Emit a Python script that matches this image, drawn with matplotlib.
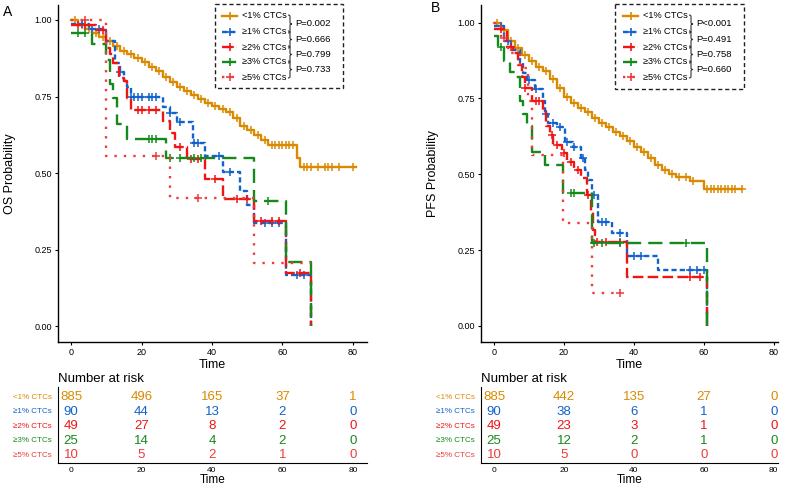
import numpy as np
import matplotlib
matplotlib.use('Agg')
import matplotlib.pyplot as plt
from matplotlib.path import Path
from matplotlib.patches import PathPatch, Rectangle

plt.rcParams['font.family'] = ['Liberation Sans', 'DejaVu Sans']

# 组名与颜色
groups = ['<1% CTCs', '≥1% CTCs', '≥2% CTCs', '≥3% CTCs', '≥5% CTCs']
colors = ['#DA8A00', '#1262CC', '#F01515', '#15891A', '#EE3B3B']
styles = ['-', (0, (2.2, 1.3)), (0, (4.5, 1.8)), (0, (6, 3)), (0, (1, 3))]

# ---- A: OS 曲线 ----
os_t = [
    [0, 2, 4, 6, 8, 10, 12, 14, 16, 18, 20, 22, 24, 26, 28, 30, 32, 34, 36, 38, 40,
     42, 44, 46, 48, 50, 52, 54, 56, 64, 65, 81],
    [0, 5, 10, 12.5, 14, 15, 16, 17, 26, 28, 30, 34.5, 38, 43, 48, 50, 52, 61, 68],
    [0, 7, 10, 11, 12, 13.5, 15, 16, 17, 26, 28, 29.5, 33, 38, 43, 52, 61, 68],
    [0, 6, 10, 11, 12, 13, 16, 27, 52, 61, 68],
    [0, 10, 28, 52, 68],
]
os_s = [
    [1.0, 0.985, 0.972, 0.958, 0.944, 0.93, 0.915, 0.9, 0.888, 0.875, 0.862, 0.848,
     0.832, 0.815, 0.797, 0.782, 0.768, 0.755, 0.742, 0.73, 0.72, 0.71, 0.70, 0.68,
     0.655, 0.64, 0.625, 0.608, 0.59, 0.55, 0.52, 0.52],
    [0.987, 0.97, 0.93, 0.86, 0.83, 0.80, 0.78, 0.75, 0.716, 0.696, 0.667, 0.598,
     0.556, 0.503, 0.44, 0.395, 0.337, 0.167, 0.0],
    [0.984, 0.967, 0.91, 0.89, 0.86, 0.81, 0.80, 0.745, 0.706, 0.67, 0.63, 0.585,
     0.545, 0.48, 0.415, 0.343, 0.173, 0.0],
    [0.957, 0.92, 0.87, 0.79, 0.745, 0.66, 0.61, 0.55, 0.41, 0.21, 0.0],
    [1.0, 0.556, 0.417, 0.206, 0.206],
]
os_cens = [
    [1, 3, 5, 7, 9, 11, 13, 15, 17, 19, 21, 23, 25, 27, 29, 31, 33, 35, 37, 39, 41,
     43, 45, 47, 49, 51, 53, 55, 57, 58, 59, 60, 61, 62, 63, 66, 67, 68, 70, 72, 73,
     74, 76, 80],
    [3, 6, 8, 14, 17, 18, 19, 20, 22, 23, 24, 28, 31, 35, 36, 42, 45, 55, 57, 59, 64, 66],
    [2, 4, 9, 19, 20, 22, 24, 31, 34, 36, 41, 47, 50, 54, 57, 59, 65],
    [2, 4, 22, 23, 24, 28, 31, 35, 37, 56],
    [4, 24, 36],
]

# ---- B: PFS 曲线 ----
pfs_t = [
    [0, 2, 4, 6, 8, 10, 12, 14, 16, 18, 20, 22, 24, 26, 28, 30, 32, 34, 36, 38, 40,
     42, 44, 46, 48, 50, 52, 56, 60, 71],
    [0, 3, 5, 7.5, 8.4, 9.4, 11.7, 14, 14.5, 15.5, 18, 20.3, 22.6, 25, 26, 27, 28,
     29.7, 33.7, 38, 47, 61],
    [0, 3.7, 5.4, 6.9, 8, 8.9, 10.9, 14, 15, 16, 17, 19.4, 21, 23, 25, 26.6, 27.7,
     28.3, 28.9, 38, 61],
    [0, 1.2, 3, 4.6, 6, 7.4, 8.3, 9.4, 10.9, 14.6, 19.7, 28, 61],
    [0, 2, 4, 7.4, 9.8, 11, 19.7, 28, 36.3],
]
pfs_s = [
    [1.0, 0.975, 0.94, 0.915, 0.893, 0.875, 0.855, 0.84, 0.815, 0.785, 0.755, 0.735,
     0.72, 0.705, 0.685, 0.67, 0.655, 0.64, 0.625, 0.608, 0.59, 0.575, 0.555, 0.53,
     0.515, 0.5, 0.49, 0.478, 0.45, 0.45],
    [0.99, 0.94, 0.908, 0.87, 0.835, 0.81, 0.78, 0.74, 0.70, 0.67, 0.655, 0.605,
     0.59, 0.553, 0.513, 0.48, 0.43, 0.343, 0.306, 0.23, 0.184, 0.0],
    [0.98, 0.92, 0.90, 0.86, 0.82, 0.786, 0.743, 0.71, 0.66, 0.63, 0.595, 0.57,
     0.54, 0.513, 0.487, 0.43, 0.38, 0.316, 0.276, 0.16, 0.0],
    [0.957, 0.92, 0.875, 0.836, 0.82, 0.743, 0.70, 0.66, 0.573, 0.53, 0.437, 0.273, 0.0],
    [1.0, 0.95, 0.90, 0.85, 0.74, 0.565, 0.34, 0.11, 0.11],
]
pfs_cens = [
    [1, 3, 5, 7, 9, 11, 13, 15, 17, 19, 21, 23, 25, 27, 29, 31, 33, 35, 37, 39, 41,
     43, 45, 47, 49, 51, 53, 55, 57, 61, 62, 63, 64, 65, 66, 67, 68, 69, 71],
    [2, 4, 10, 12, 15, 17, 19, 21, 23, 25.5, 28.5, 31, 32, 36, 40, 42, 56, 58, 60],
    [2, 5, 9, 12, 13, 16.5, 18, 20, 22, 24, 27, 29.5, 32, 36, 56, 59],
    [2, 22, 23, 28.5, 31, 36, 55],
    [3, 36],
]

# 风险表
risk_times = [0, 20, 40, 60, 80]
os_risk = [[885, 496, 165, 37, 1], [90, 44, 13, 2, 0], [49, 27, 8, 2, 0],
           [25, 14, 4, 2, 0], [10, 5, 2, 1, 0]]
pfs_risk = [[885, 442, 135, 27, 0], [90, 38, 6, 1, 0], [49, 23, 3, 1, 0],
            [25, 12, 2, 1, 0], [10, 5, 0, 0, 0]]

os_p = ['P=0.002', 'P=0.666', 'P=0.799', 'P=0.733']
pfs_p = ['P<0.001', 'P=0.491', 'P=0.758', 'P=0.660']

W, H = 790, 487
fig = plt.figure(figsize=(W / 100, H / 100), dpi=100)


def px_axes(l, t, r, b):
    return fig.add_axes([l / W, 1 - b / H, (r - l) / W, (b - t) / H])


def km_panel(ax, ts, ss, cens, ylabel, xlim, ylim):
    for i in range(5):
        t = np.array(ts[i], dtype=float)
        s = np.array(ss[i], dtype=float)
        ax.step(t, s, where='post', color=colors[i], linestyle=styles[i], lw=1.7,
                dash_capstyle='butt')
        c = np.array(cens[i], dtype=float)
        idx = np.searchsorted(t, c, side='right') - 1
        ax.plot(c, s[idx], linestyle='none', marker='+', color=colors[i],
                ms=6, mew=1.1)
    ax.set_xlim(*xlim)
    ax.set_ylim(*ylim)
    ax.set_xticks([0, 20, 40, 60, 80])
    ax.set_yticks([0, 0.25, 0.5, 0.75, 1.0])
    ax.set_yticklabels(['0.00', '0.25', '0.50', '0.75', '1.00'])
    ax.tick_params(labelsize=6.5, length=2.5, width=0.8, pad=2)
    for sp in ['top', 'right']:
        ax.spines[sp].set_visible(False)
    for sp in ['left', 'bottom']:
        ax.spines[sp].set_linewidth(1.0)
    ax.set_xlabel('Time', fontsize=9, labelpad=1)
    ax.set_ylabel(ylabel, fontsize=9, labelpad=13)


def risk_panel(ax, risk, xlim):
    for i in range(5):
        y = 4 - i
        for x, n in zip(risk_times, risk[i]):
            ax.text(x, y, str(n), color=colors[i], fontsize=9.5, ha='center', va='center')
        ax.text(-0.02, y, groups[i], color=colors[i], fontsize=5.8, ha='right',
                va='center', transform=ax.get_yaxis_transform())
    ax.set_xlim(*xlim)
    ax.set_ylim(-0.55, 4.7)
    ax.set_yticks([])
    ax.set_xticks(risk_times)
    ax.tick_params(labelsize=6, length=0, pad=3)
    for sp in ['top', 'right']:
        ax.spines[sp].set_visible(False)
    ax.set_xlabel('Time', fontsize=8.5, labelpad=0)
    ax.text(0, 1.02, 'Number at risk', transform=ax.transAxes, fontsize=9.5,
            va='bottom', ha='left')


axA = px_axes(58, 5, 367, 342)
km_panel(axA, os_t, os_s, os_cens, 'OS Probability', (-3.7, 84), (-0.052, 1.049))
axB = px_axes(481, 5, 778, 342)
km_panel(axB, pfs_t, pfs_s, pfs_cens, 'PFS Probability', (-3.7, 81.2), (-0.053, 1.058))

rA = px_axes(58, 387, 367, 463)
risk_panel(rA, os_risk, (-3.7, 84))
rB = px_axes(481, 387, 778, 463)
risk_panel(rB, pfs_risk, (-3.7, 81.2))

# 叠加层，像素坐标
ov = fig.add_axes([0, 0, 1, 1], facecolor='none')
ov.set_xlim(0, W)
ov.set_ylim(H, 0)
ov.axis('off')

ov.text(3, 12, 'A', fontsize=10, ha='left', va='center')
ov.text(431, 8, 'B', fontsize=10, ha='left', va='center')


def brace(x, y0, y1, w=4):
    ym = (y0 + y1) / 2
    r = 1.5
    xm = x + w / 2
    verts = [(x, y0), (xm, y0), (xm, y0 + r), (xm, ym - r), (xm, ym), (x + w, ym),
             (xm, ym), (xm, ym + r), (xm, y1 - r), (xm, y1), (x, y1)]
    codes = [Path.MOVETO, Path.CURVE3, Path.CURVE3, Path.LINETO, Path.CURVE3,
             Path.CURVE3, Path.CURVE3, Path.CURVE3, Path.LINETO, Path.CURVE3, Path.CURVE3]
    ov.add_patch(PathPatch(Path(verts, codes), fill=False, lw=0.8, color='#333333'))


def legend(x0, x1, y0, y1, lx, bx, pvals):
    ov.add_patch(Rectangle((x0, y0), x1 - x0, y1 - y0, fill=False, lw=1.0,
                           ls=(0, (3, 2)), ec='#222222'))
    ys = [16, 32, 47, 62, 77]
    for i, y in enumerate(ys):
        ov.plot([lx, lx + 15], [y, y], color=colors[i], linestyle=styles[i], lw=1.7)
        ov.plot([lx + 7.5], [y], marker='+', color=colors[i], ms=6, mew=1.2)
        ov.text(lx + 20, y, groups[i], fontsize=6.6, va='center', ha='left')
    for j in range(4):
        brace(bx, ys[j] - 1, ys[j + 1] + 1)
        ov.text(bx + 7, (ys[j] + ys[j + 1]) / 2, pvals[j], fontsize=6.8,
                va='center', ha='left')


legend(215, 343, 4, 88, 222, 288, os_p)
legend(615, 744, 4, 89, 623, 689, pfs_p)

fig.savefig('out.png', dpi=100)
